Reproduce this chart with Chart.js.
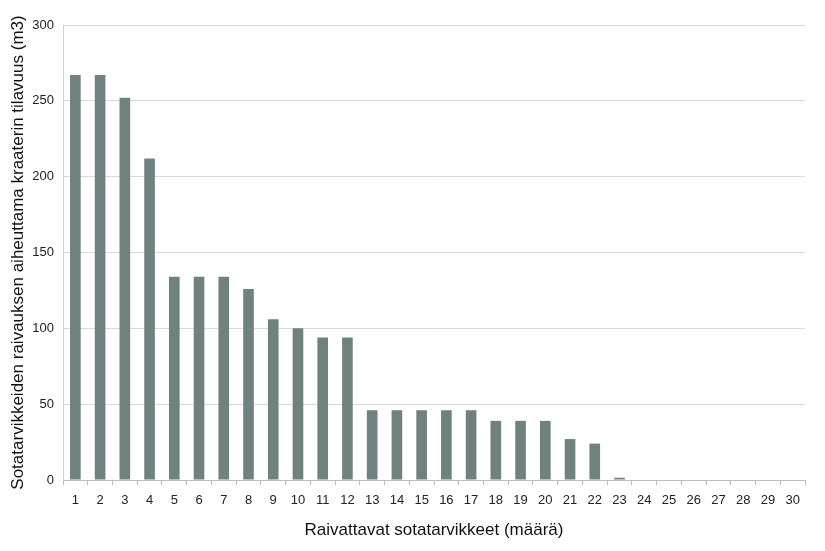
<!DOCTYPE html>
<html>
<head>
<meta charset="utf-8">
<script src="https://cdn.jsdelivr.net/npm/chart.js@4"></script>
<style>
  html, body { margin: 0; padding: 0; background: #fff; }
  #wrap { width: 825px; height: 551px; }
</style>
</head>
<body>
<div id="wrap"><canvas id="myChart"></canvas></div>
<script>
// data
const categories = [1,2,3,4,5,6,7,8,9,10,11,12,13,14,15,16,17,18,19,20,21,22,23,24,25,26,27,28,29,30];
const volumes = [267, 267, 252, 212, 134, 134, 134, 126, 106, 100, 94, 94, 46, 46, 46, 46, 46, 39, 39, 39, 27, 24, 1.5, 0, 0, 0, 0, 0, 0, 0];
const yTicks = [0, 50, 100, 150, 200, 250, 300];

const xTitle = 'Raivattavat sotatarvikkeet (määrä)';
const yTitle = 'Sotatarvikkeiden raivauksen aiheuttama kraaterin tilavuus (m3)';

const fontFamily = '"Liberation Sans", Arial, sans-serif';

const ctx = document.getElementById('myChart');
new Chart(ctx, {
  type: 'bar',
  data: {
    labels: categories,
    datasets: [{
      data: volumes,
      backgroundColor: 'rgb(112, 130, 126)',
      borderWidth: 0,
      barPercentage: 0.86,
      categoryPercentage: 0.5
    }]
  },
  options: {
    responsive: true,
    maintainAspectRatio: false,
    animation: false,
    layout: { padding: { top: 25, right: 20, left: 0, bottom: 0 } },
    plugins: {
      legend: { display: false },
      tooltip: { enabled: false }
    },
    scales: {
      x: {
        offset: true,
        afterFit: axis => { axis.height = 71; },
        grid: {
          offset: true,
          drawOnChartArea: false,
          color: '#bdbdbd',
          tickLength: 5
        },
        border: { color: '#bdbdbd' },
        ticks: {
          color: '#222',
          font: { family: fontFamily, size: 13 },
          maxRotation: 0,
          autoSkip: false,
          padding: 8
        },
        title: {
          display: true,
          text: xTitle,
          color: '#111',
          font: { family: fontFamily, size: 17 },
          padding: { top: 4, bottom: 10 }
        }
      },
      y: {
        min: 0,
        max: 300,
        afterFit: axis => { axis.width = 63; },
        afterBuildTicks: axis => { axis.ticks = yTicks.map(v => ({ value: v })); },
        grid: {
          color: '#d9d9d9',
          tickLength: 0
        },
        border: { color: '#d0d0d0' },
        ticks: {
          color: '#222',
          font: { family: fontFamily, size: 13 },
          padding: 9
        },
        title: {
          display: true,
          text: yTitle,
          color: '#111',
          font: { family: fontFamily, size: 17 },
          padding: { top: 8, bottom: 4 }
        }
      }
    }
  }
});
</script>
</body>
</html>
